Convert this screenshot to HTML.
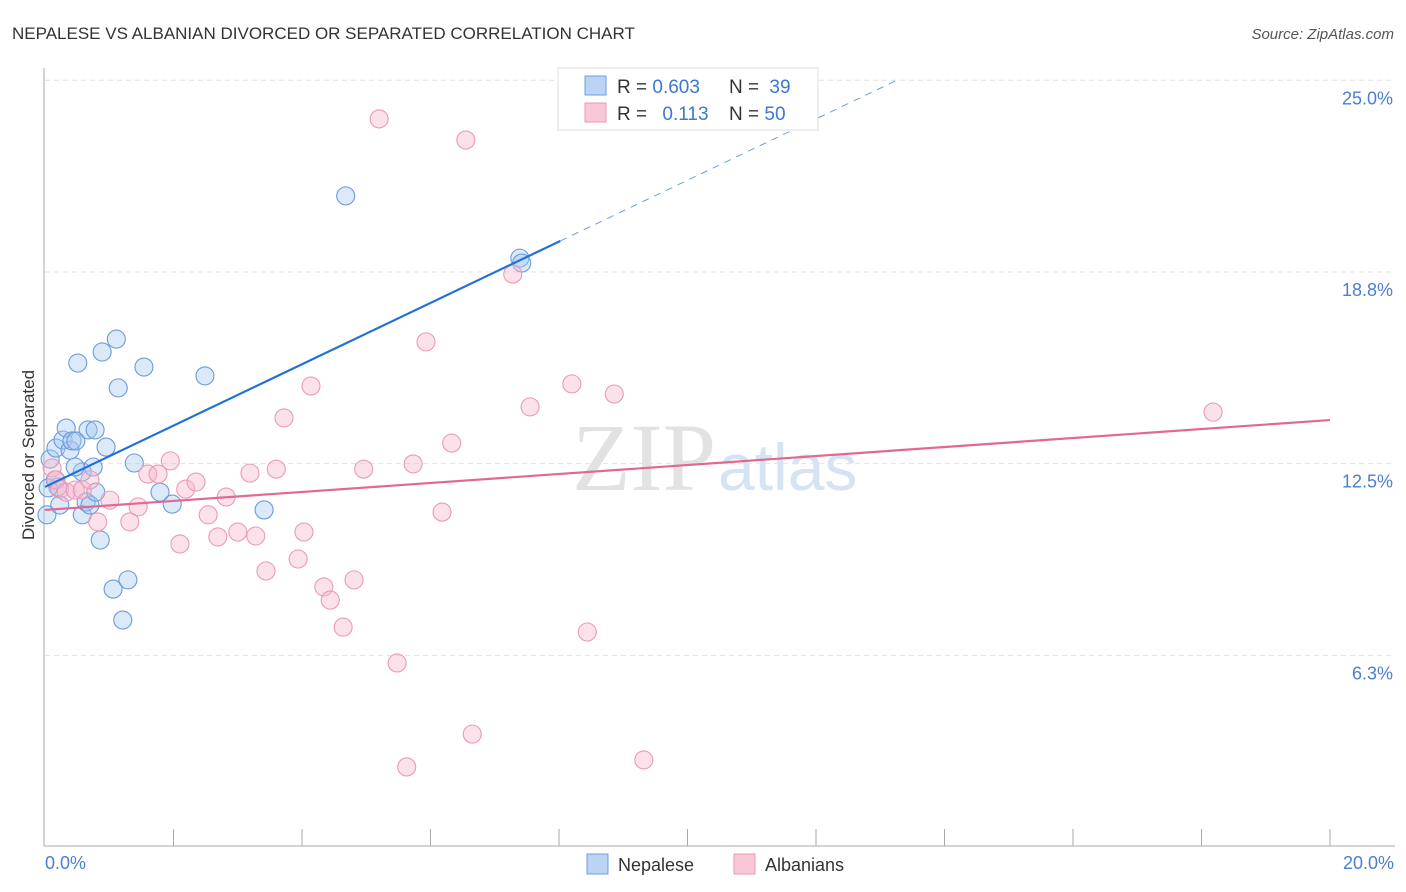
<!DOCTYPE html>
<html><head><meta charset="utf-8">
<style>
body{margin:0;background:#fff;font-family:"Liberation Sans",sans-serif}
svg{display:block}
</style></head>
<body>
<svg id="chart" width="1406" height="892" viewBox="0 0 1406 892">
<text x="12" y="39" font-size="17" fill="#333">NEPALESE VS ALBANIAN DIVORCED OR SEPARATED CORRELATION CHART</text>
<text x="1394" y="39" font-size="15" fill="#555" font-style="italic" text-anchor="end">Source: ZipAtlas.com</text>
<text x="716" y="490" font-size="96" font-family="Liberation Serif" fill="#e2e2e2" text-anchor="end">ZIP</text>
<text x="718" y="490" font-size="66" fill="#d6e3f4">atlas</text>
<g id="grid"></g>
<g id="axes"></g>
<g id="marks"></g>
<text transform="translate(34,455) rotate(-90)" font-size="17" fill="#333" text-anchor="middle">Divorced or Separated</text>
<text x="45" y="869" font-size="18" fill="#4a7fd4">0.0%</text>
<text x="1394" y="869" font-size="18" fill="#4a7fd4" text-anchor="end">20.0%</text>
<g>
<rect x="558" y="68" width="260" height="62" fill="#fff" stroke="#ddd"/>
<rect x="585" y="76" width="21" height="19" fill="#bcd4f4" stroke="#6e9de0"/>
<rect x="585" y="103" width="21" height="19" fill="#f9c7d5" stroke="#ea9ab3"/>
<text x="617" y="93" font-size="19" fill="#333">R = <tspan fill="#3d78d0">0.603</tspan></text>
<text x="729" y="93" font-size="19" fill="#333">N = <tspan fill="#3d78d0" dx="5">39</tspan></text>
<text x="617" y="120" font-size="19" fill="#333">R = <tspan fill="#3d78d0" dx="10">0.113</tspan></text>
<text x="729" y="120" font-size="19" fill="#333">N = <tspan fill="#3d78d0">50</tspan></text>
</g>
<g>
<rect x="587" y="854" width="21" height="20" fill="#bcd4f4" stroke="#6e9de0"/>
<text x="618" y="871" font-size="18" fill="#333">Nepalese</text>
<rect x="734" y="854" width="21" height="20" fill="#f9c7d5" stroke="#ea9ab3"/>
<text x="765" y="871" font-size="18" fill="#333">Albanians</text>
</g>
</svg>
<script>
const yTicks=[25.0,18.8,12.5,6.3];
const yTickVals=[25,18.75,12.5,6.25];
const nepX=[0.03,0.08,0.17,0.20,0.23,0.28,0.33,0.39,0.42,0.48,0.51,0.58,0.58,0.64,0.67,0.70,0.75,0.78,0.79,0.86,0.89,0.95,1.06,1.11,1.14,1.21,1.29,1.39,1.54,1.79,1.98,2.49,3.41,4.68,7.39,7.42,0.05,0.16,0.47];
const nepY=[10.83,12.65,13.01,11.74,11.15,13.27,13.66,12.94,13.24,13.24,15.78,12.23,10.83,11.25,13.60,11.15,12.39,13.60,11.57,10.01,16.14,13.04,8.41,16.56,14.97,7.40,8.71,12.52,15.65,11.57,11.18,15.36,10.99,21.23,19.20,19.04,11.71,11.97,12.39];
const albX=[0.11,0.17,0.23,0.33,0.47,0.58,0.70,0.82,1.01,1.32,1.45,1.60,1.76,1.95,2.10,2.19,2.35,2.54,2.69,2.82,3.00,3.19,3.28,3.44,3.60,3.72,3.94,4.03,4.14,4.34,4.44,4.64,4.81,4.96,5.20,5.48,5.63,5.73,5.93,6.18,6.33,6.55,6.65,7.28,7.55,8.20,8.44,8.86,9.32,18.18];
const albY=[12.36,11.97,11.67,11.57,11.64,11.64,11.97,10.60,11.31,10.60,11.09,12.16,12.16,12.59,9.88,11.67,11.90,10.83,10.11,11.41,10.27,12.19,10.14,9.00,12.32,13.99,9.39,10.27,15.03,8.48,8.05,7.17,8.71,12.32,23.74,6.00,2.61,12.49,16.47,10.92,13.17,23.05,3.68,18.68,14.35,15.10,7.01,14.77,2.84,14.18];
const nepFit=[11.74,1.0];
const albFit=[10.99,0.1465];
const NS='http://www.w3.org/2000/svg';
const xS=v=>45+v*64.25;
const yS=v=>847-v*30.67;
function mk(t,a,p){const e=document.createElementNS(NS,t);for(const k in a)e.setAttribute(k,a[k]);p.appendChild(e);return e;}
const grid=document.getElementById('grid'),axes=document.getElementById('axes'),marks=document.getElementById('marks');
yTickVals.forEach((v,i)=>{
 const l=mk('line',{x1:45,x2:1395,y1:yS(v),y2:yS(v),stroke:'#e2e2e2','stroke-dasharray':'5,4'},grid);
 
 
 const t=mk('text',{x:1393,y:yS(v)+24,'font-size':18,fill:'#4a7fd4','text-anchor':'end'},grid);
 t.textContent=yTicks[i].toFixed(1)+'%';
 
 
});
const ax=mk('line',{x1:44,x2:44,y1:68,y2:846,stroke:'#aaa'},axes);


const bx=mk('line',{x1:44,x2:1395,y1:846,y2:846,stroke:'#aaa'},axes);


for(let i=1;i<=10;i++){
 const t=mk('line',{x1:xS(i*2),x2:xS(i*2),y1:829,y2:846,stroke:'#aaa'},axes);
 
 
}
nepX.forEach((x,i)=>{
 const c=mk('circle',{cx:xS(x),cy:yS(nepY[i]),r:9,fill:'rgba(166,199,240,0.4)',stroke:'#6a9bdd','stroke-width':1.1},marks);
 
 
});
albX.forEach((x,i)=>{
 const c=mk('circle',{cx:xS(x),cy:yS(albY[i]),r:9,fill:'rgba(246,182,202,0.4)',stroke:'#eb9ab4','stroke-width':1.1},marks);
 
 
});
const nl=mk('line',{x1:xS(0),y1:yS(nepFit[0]),x2:xS(8.02),y2:yS(nepFit[0]+nepFit[1]*8.02),stroke:'#2270d6','stroke-width':2.2},marks);


const nd=mk('line',{x1:xS(8.02),y1:yS(nepFit[0]+nepFit[1]*8.02),x2:xS(13.31),y2:yS(nepFit[0]+nepFit[1]*13.31),stroke:'#6c9ee0','stroke-width':1,'stroke-dasharray':'7,6'},marks);


const al=mk('line',{x1:xS(0),y1:yS(albFit[0]),x2:xS(20),y2:yS(albFit[0]+albFit[1]*20),stroke:'#e2688f','stroke-width':2.2},marks);


</script>
</body></html>
